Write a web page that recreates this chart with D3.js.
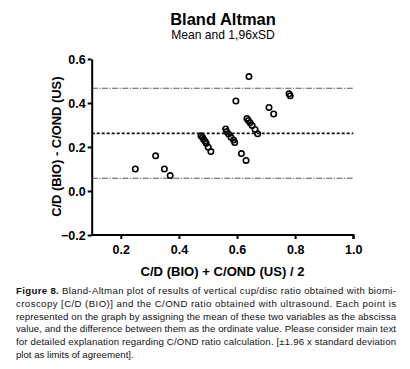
<!DOCTYPE html>
<html><head><meta charset="utf-8">
<script src="https://cdn.jsdelivr.net/npm/d3@7"></script>
<style>
html,body{margin:0;padding:0;background:#fff;}
svg{display:block;}
</style></head>
<body>
<script>
const meanX = [0.25,0.32,0.35,0.37,
  0.476,0.481,0.485,0.490,0.494,0.501,0.510,
  0.561,0.564,0.571,0.579,0.588,0.592,
  0.596,0.615,0.631,
  0.634,0.639,0.645,0.652,0.662,0.671,
  0.641,0.710,0.726,0.779,0.783];
const diffY = [0.10,0.16,0.10,0.07,
  0.251,0.244,0.235,0.226,0.217,0.199,0.179,
  0.282,0.270,0.259,0.244,0.232,0.220,
  0.409,0.170,0.139,
  0.330,0.321,0.310,0.298,0.280,0.260,
  0.520,0.380,0.350,0.442,0.433];
const bias = 0.262, upperLoA = 0.467, lowerLoA = 0.058;
const xTicks = [0.2,0.4,0.6,0.8,1.0];
const yTicks = [-0.2,0.0,0.2,0.4,0.6];
const title = "Bland Altman", subtitle = "Mean and 1,96xSD";
const xLabel = "C/D (BIO) + C/OND (US) / 2";
const yLabel = "C/D (BIO) - C/OND (US)";
const captionLines = [
  ["Figure 8.", " Bland-Altman plot of results of vertical cup/disc ratio obtained with biomi-"],
  ["", "croscopy [C/D (BIO)] and the C/OND ratio obtained with ultrasound. Each point is"],
  ["", "represented on the graph by assigning the mean of these two variables as the abscissa"],
  ["", "value, and the difference between them as the ordinate value. Please consider main text"],
  ["", "for detailed explanation regarding C/OND ratio calculation. [\u00b11.96 x standard deviation"],
  ["", "plot as limits of agreement]."]
];

const W = 410, H = 369;
const svg = d3.select("body").append("svg").attr("width", W).attr("height", H);
const x = d3.scaleLinear().domain([0.1, 1.0]).range([91.7, 353.3]);
const y = d3.scaleLinear().domain([-0.2, 0.6]).range([235, 59]);

const font = "'Liberation Sans', Arial, sans-serif";

svg.append("text").attr("x", 223).attr("y", 24.5).attr("text-anchor", "middle")
  .attr("font-family", font).attr("font-weight", "bold").attr("font-size", 16.5).text(title);
svg.append("text").attr("x", 223).attr("y", 38.5).attr("text-anchor", "middle")
  .attr("font-family", font).attr("font-size", 12.1).text(subtitle);

// reference lines
const refLines = [
  {v: upperLoA, dash: "6,1.5,1.2,1.5", w: 1, c: "#555"},
  {v: lowerLoA, dash: "6,1.5,1.2,1.5", w: 1, c: "#555"},
  {v: bias, dash: "3,2", w: 1.8, c: "#111"}
];
svg.selectAll("line.ref").data(refLines).enter().append("line")
  .attr("x1", x(0.1)).attr("x2", x(1.0))
  .attr("y1", d => y(d.v)).attr("y2", d => y(d.v))
  .attr("stroke", d => d.c).attr("stroke-width", d => d.w)
  .attr("stroke-dasharray", d => d.dash);

// axes
const xAxis = svg.append("g").attr("transform", `translate(0,${y(-0.2)})`)
  .call(d3.axisBottom(x).tickValues(xTicks).tickFormat(d3.format(".1f")).tickSize(4).tickSizeOuter(4));
const yAxis = svg.append("g").attr("transform", `translate(${x(0.1)},0)`)
  .call(d3.axisLeft(y).tickValues(yTicks).tickFormat(d3.format(".1f")).tickSize(4).tickSizeOuter(0));
[xAxis, yAxis].forEach(g => {
  g.select(".domain").attr("stroke", "#000").attr("stroke-width", 2);
  g.selectAll(".tick line").attr("stroke", "#000").attr("stroke-width", 2);
  g.selectAll(".tick text").attr("font-family", font).attr("font-weight", "bold")
    .attr("font-size", 12.5).attr("fill", "#000");
});
xAxis.selectAll(".tick text").attr("y", 10).attr("dy", "0.71em");
yAxis.selectAll(".tick text").attr("x", -6).attr("dy", "0.36em");
xAxis.select(".domain").attr("d", `M${x(0.1)},0H${x(1.0)}V4`);

// points
svg.selectAll("circle.pt").data(meanX.map((m, i) => [m, diffY[i]])).enter().append("circle")
  .attr("cx", d => x(d[0])).attr("cy", d => y(d[1])).attr("r", 2.7)
  .attr("fill", "none").attr("stroke", "#000").attr("stroke-width", 1.6);

// axis labels
svg.append("text").attr("x", 222.5).attr("y", 276).attr("text-anchor", "middle")
  .attr("font-family", font).attr("font-weight", "bold").attr("font-size", 13.1).text(xLabel);
svg.append("text").attr("transform", "translate(61,146.7) rotate(-90)").attr("text-anchor", "middle")
  .attr("font-family", font).attr("font-weight", "bold").attr("font-size", 12.9).text(yLabel);

// caption
const capFont = "'Liberation Sans Narrow', 'Arial Narrow', 'Liberation Sans', sans-serif";
const capTexts = captionLines.map((ln, i) => {
  const t = svg.append("text").attr("x", 16).attr("y", 294.3 + i * 12.65)
    .attr("font-family", capFont).attr("font-size", 10.6).attr("fill", "#111");
  if (ln[0]) t.append("tspan").attr("font-weight", "bold").text(ln[0]);
  t.append("tspan").text(ln[1]);
  return t;
});
// uniform font size so that every line fits its width, then justify by spacing
let fs = 10.6;
const targets = captionLines.map((ln, i) => i < captionLines.length - 1 ? 380 : null);
let maxRatio = 0;
capTexts.forEach((t, i) => { if (targets[i]) maxRatio = Math.max(maxRatio, t.node().getComputedTextLength() / targets[i]); });
if (maxRatio > 0.995) fs = fs / maxRatio * 0.99;
capTexts.forEach((t, i) => {
  t.attr("font-size", fs);
  if (targets[i]) t.attr("textLength", targets[i]).attr("lengthAdjust", "spacing");
});
</script>
</body></html>
